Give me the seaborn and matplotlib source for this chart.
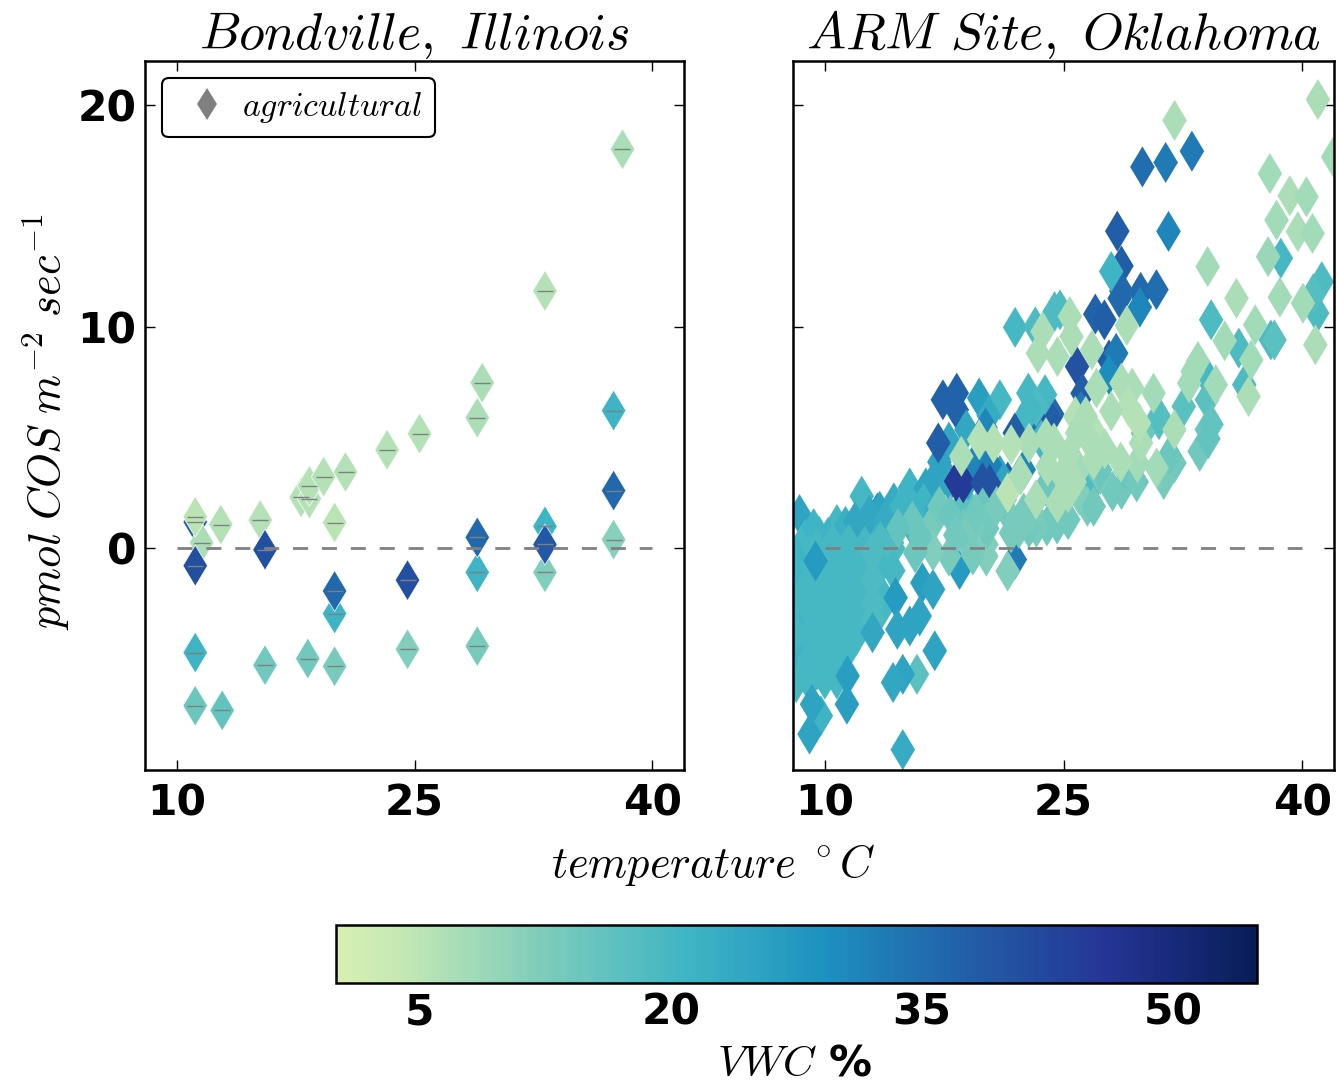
import matplotlib
matplotlib.use("Agg")
import matplotlib.pyplot as plt
import matplotlib.colors as mcolors
from matplotlib.cm import ScalarMappable
from matplotlib.lines import Line2D
import numpy as np
import pandas as pd
import seaborn as sns

# Bondville, Illinois
bond_temp = [
    11.17, 11.57, 11.17, 12.78, 15.27, 11.17, 15.57, 11.17, 15.57, 18.27,
    19.96, 19.96, 19.96, 24.56, 24.56, 11.17, 12.87, 23.27, 17.85, 18.37,
    18.37, 19.27, 20.65, 19.96, 25.32, 28.96, 29.27, 33.23, 38.12, 37.56,
    37.56, 37.56, 33.23, 33.23, 33.23, 28.96, 28.96, 28.96,
]
bond_flux = [
    1.19, 0.26, 1.43, 1.08, 1.28, -0.78, -0.06, -4.7, -5.27, -4.97,
    -5.32, -2.94, -1.92, -1.43, -4.55, -7.1, -7.31, 4.45, 2.30, 2.25,
    2.82, 3.24, 3.45, 1.17, 5.18, 5.9, 7.48, 11.62, 18.02, 6.22,
    2.61, 0.4, 1.0, -1.08, 0.18, -1.08, 0.5, -4.41,
]
bond_vwc = [
    37, 7, 5, 6, 6, 41, 41, 21, 14, 14,
    13, 21, 36, 41, 12, 15, 16, 6, 6, 6,
    6, 6, 6, 5, 6, 7, 7, 6, 7, 21,
    36, 11, 21, 12, 39, 21, 36, 13,
]

# ARM site, Oklahoma (drawn in this order)
arm_temp = [
    33.07, 31.42, 29.96, 28.38, 31.6, 28.64, 28.64, 29.85, 30.84, 29.8,
    28.53, 27.0, 27.57, 25.85, 27.86, 28.31, 27.86, 17.42, 18.29, 18.29,
    23.4, 24.3, 13.3, 21.94, 26.2, 24.1, 26.1, 21.5,
    28.0, 38.66, 41.23, 40.94, 40.7, 34.28, 24.44, 24.78, 21.96, 23.23,
    36.02, 38.03, 38.26, 34.12, 36.36, 19.7, 21.0, 22.79, 23.84, 23.28,
    34.01, 32.56, 31.0, 31.0, 26.86, 12.32, 15.34, 14.34, 13.45, 16.35,
    17.24, 16.8, 8.41, 9.64, 10.76, 8.75, 12.21, 13.1, 14.22, 18.36,
    17.8, 18.9, 16.8, 17.85, 16.2, 18.9, 21.0, 8.2, 10.76, 15.79,
    9.75, 19.6, 22.4, 22.9, 23.6, 19.0, 17.2, 20.3, 15.0, 12.9,
    9.3, 10.2, 11.3, 11.9, 12.8, 13.8, 14.8, 15.4, 16.0, 17.0,
    8.5, 8.5, 8.5, 8.5, 8.5, 9.5, 9.5, 9.5, 9.5, 9.5,
    9.5, 10.5, 10.5, 10.5, 10.5, 10.5, 10.5, 11.5, 11.5, 11.5,
    11.5, 11.5, 12.5, 12.5, 12.5, 12.5, 13.5, 13.5, 13.5, 13.5,
    14.3, 14.3, 8.2, 8.2, 8.2,
    9.0, 9.0, 9.0, 9.0, 9.0, 9.0, 10.0, 10.0, 10.0, 10.0,
    10.0, 10.0, 11.0, 11.0, 11.0, 11.0, 11.0, 12.0, 12.0, 12.0,
    12.0, 13.0, 13.0, 13.0, 13.0, 8.1, 8.1, 8.1,
    20.1, 17.13, 19.25, 20.37, 18.7, 18.25, 19.9, 20.37, 21.94, 22.5,
    16.13, 16.8, 14.45, 15.34, 15.96, 14.56, 13.0, 16.91, 14.9, 14.29,
    11.43, 11.39, 9.2, 9.04, 14.9, 18.47, 19.37, 9.42,
    34.01, 33.56, 30.0, 31.97, 31.3, 28.64, 28.08, 27.3, 23.96, 23.3,
    24.17, 15.5, 16.8, 19.92, 17.8, 16.8, 15.68, 18.86, 20.15, 20.15,
    18.86, 21.49, 21.7, 22.83, 18.7, 20.2, 21.6, 26.5, 23.9, 27.3,
    31.66, 34.1, 34.3, 17.2, 19.3, 14.6, 21.3, 22.5, 25.2, 26.0,
    26.9, 28.9, 29.6, 22.2, 23.0, 24.6, 25.3, 19.5, 20.8, 17.9,
    18.2, 16.0, 19.3,
    40.99, 31.98, 41.95, 37.97, 39.22, 40.27, 38.39, 39.73, 40.65, 37.86,
    34.06, 35.87, 38.6, 40.05, 37.05, 40.83, 28.98, 25.4, 23.68, 25.5,
    35.13, 36.8, 23.39, 24.62, 26.79, 33.45, 33.12, 32.9, 34.57, 36.63,
    30.66, 28.64, 27.08, 29.32, 29.09, 25.74, 31.97, 30.85, 29.65, 29.87,
    29.75, 27.08, 26.4, 25.85, 25.96, 24.4, 22.84, 21.71, 23.28, 24.62,
    25.29, 21.5, 18.58, 20.6, 19.7, 24.0, 27.6, 28.6, 26.9, 25.3,
    24.9, 25.7, 28.0, 23.9, 22.3, 26.6,
]
arm_flux = [
    17.93, 17.42, 17.22, 14.32, 14.31, 12.75, 11.62, 11.56, 11.68, 10.89,
    11.29, 10.58, 10.32, 8.21, 8.51, 8.81, 7.84, 6.71, 7.01, 6.26,
    5.3, 6.05, 1.6, -0.5, 7.0, 5.9, 6.2, 3.0,
    12.5, 13.1, 12.04, 10.62, 11.5, 10.32, 10.69, 10.77, 9.98, 10.0,
    9.04, 9.41, 9.41, 7.61, 7.39, 6.79, 6.71, 7.01, 6.94, 6.41,
    6.71, 6.41, 5.96, 5.81, 2.96, 2.36, 2.73, 2.06, 1.68, 2.73,
    2.96, 2.21, 1.53, 0.56, 1.08, 0.4, 0.48, 0.4, 0.26, 1.61,
    4.8, 5.36, 3.0, 3.0, 2.05, 2.05, 3.3, -6.05, -5.9, -5.68,
    -7.55, 4.1, 5.7, 6.3, 4.9, 3.1, 3.9, 6.0, 1.5, 1.3,
    0.9, 0.5, 1.0, 1.2, 1.5, 1.3, 1.9, 1.1, 1.5, 1.8,
    -0.8, -2.0, -3.2, -4.4, -5.6, 0.0, -1.0, -2.2, -3.4, -4.6,
    -5.5, 0.2, -0.8, -2.0, -3.2, -4.2, -5.3, 0.2, -1.0, -2.2,
    -3.4, -4.5, 0.1, -1.0, -2.2, -3.2, 0.3, -0.8, -2.0, -2.8,
    0.0, -1.0, -1.5, -3.0, -4.5,
    -0.3, -1.5, -2.7, -3.9, -5.1, -6.0, -0.3, -1.4, -2.6, -3.8,
    -4.8, -5.9, -0.3, -1.5, -2.7, -3.9, -4.9, -0.4, -1.6, -2.8,
    -3.9, -0.2, -1.4, -2.5, -3.2, -0.3, -2.3, -3.8,
    5.44, 4.76, 3.63, 3.78, 2.96, 3.03, 2.96, 2.88, 5.21, 3.56,
    -1.55, -1.85, -2.22, -3.5, -3.05, -3.65, -3.8, -4.62, -5.68, -6.05,
    -5.75, -7.03, -7.03, -8.38, -9.08, -0.95, -0.2, -0.57,
    5.36, 4.38, 5.21, 3.86, 3.11, 2.66, 2.58, 3.33, 1.01, 0.95,
    3.41, 1.23, 1.16, 1.83, -0.35, -0.12, -0.2, 0.33, 0.18, -0.35,
    0.55, -1.02, 0.7, 0.93, 0.9, 0.9, 1.45, 1.9, 2.8, 3.55,
    4.2, 4.95, 5.6, 1.9, 1.0, 0.9, 2.2, 1.6, 1.4, 2.4,
    1.9, 3.5, 3.0, 0.9, 1.7, 1.1, 1.3, 1.6, 1.9, 1.5,
    0.6, 0.5, -0.3,
    20.26, 19.32, 17.67, 16.92, 15.92, 15.87, 14.82, 14.3, 14.22, 13.17,
    12.72, 11.29, 11.34, 11.07, 10.09, 9.19, 10.06, 10.47, 9.79, 9.56,
    9.37, 8.51, 8.81, 8.66, 8.96, 8.44, 7.99, 7.46, 7.39, 6.86,
    7.01, 7.46, 7.24, 7.24, 6.41, 5.96, 5.36, 3.63, 3.86, 4.76,
    5.66, 5.06, 5.96, 5.21, 3.56, 4.76, 4.76, 4.68, 2.21, 2.06,
    2.51, 2.51, 4.16, 4.76, 4.91, 3.7, 4.5, 3.9, 4.0, 4.2,
    3.3, 3.0, 6.2, 5.0, 3.3, 4.9,
]
arm_vwc = [
    33, 33, 35, 38, 31, 38, 36, 36, 35, 31,
    36, 37, 38, 40, 38, 33, 30, 37, 37, 37,
    34, 36, 30, 33, 38, 38, 33, 38,
    21, 20, 19, 19, 18, 19, 19, 19, 20, 19,
    19, 19, 17, 20, 19, 26, 20, 20, 20, 19,
    17, 17, 18, 18, 19, 20, 21, 23, 25, 25,
    25, 23, 25, 20, 20, 20, 20, 19, 19, 17,
    24, 24, 25, 24, 21, 17, 25, 20, 20, 17,
    21, 25, 20, 20, 20, 24, 25, 23, 19, 21,
    21, 21, 22, 24, 24, 23, 21, 22, 21, 23,
    20, 20, 20, 20, 20, 20, 20, 20, 20, 20,
    20, 20, 20, 20, 20, 20, 20, 20, 20, 20,
    20, 20, 20, 20, 20, 20, 19, 20, 20, 20,
    19, 20, 21, 21, 21,
    20, 20, 20, 20, 20, 20, 20, 20, 20, 20,
    20, 20, 20, 20, 20, 20, 20, 20, 20, 20,
    20, 19, 19, 19, 19, 21, 20, 20,
    31, 38, 31, 32, 45, 45, 40, 40, 38, 31,
    26, 25, 27, 25, 25, 25, 24, 25, 25, 24,
    26, 26, 25, 25, 23, 27, 28, 27,
    15, 14, 15, 14, 13, 14, 14, 13, 14, 13,
    15, 15, 13, 15, 13, 12, 15, 12, 12, 12,
    13, 12, 13, 14, 14, 14, 13, 13, 15, 15,
    15, 16, 16, 14, 13, 16, 14, 13, 13, 12,
    14, 15, 14, 13, 13, 14, 14, 14, 13, 15,
    14, 15, 13,
    7, 7, 8, 8, 7, 8, 8, 7, 8, 9,
    8, 7, 8, 8, 8, 7, 7, 7, 7, 7,
    8, 8, 7, 7, 7, 8, 8, 8, 8, 7,
    8, 7, 7, 7, 6, 6, 7, 8, 8, 7,
    6, 6, 7, 7, 8, 7, 7, 6, 7, 7,
    7, 5, 7, 6, 6, 7, 7, 7, 7, 7,
    7, 7, 7, 7, 7, 7,
]

temp_ticks = [10, 25, 40]
flux_ticks = [0, 10, 20]
vwc_ticks = [5, 20, 35, 50]

sns.set_theme(style="ticks")
plt.rcParams["mathtext.fontset"] = "cm"
plt.rcParams["font.family"] = ["DejaVu Sans"]
plt.rcParams["text.color"] = "black"
plt.rcParams["xtick.color"] = "black"
plt.rcParams["ytick.color"] = "black"
plt.rcParams["axes.labelcolor"] = "black"

# the colorbar starts part way into YlGnBu
ygb = matplotlib.colormaps["YlGnBu"]
cmap = mcolors.LinearSegmentedColormap.from_list("ygb_cut", ygb(np.linspace(0.2, 1.0, 256)))
norm = mcolors.Normalize(vmin=0, vmax=55)

fig = plt.figure(figsize=(13.38, 10.84), dpi=100)
ax1 = fig.add_axes([145 / 1338, 314 / 1084, 539 / 1338, 709 / 1084])
ax2 = fig.add_axes([793 / 1338, 314 / 1084, 541 / 1338, 709 / 1084])
cax = fig.add_axes([336 / 1338, 101 / 1084, 921 / 1338, 58 / 1084])

df_bond = pd.DataFrame({"temp": bond_temp, "flux": bond_flux, "vwc": bond_vwc})
df_arm = pd.DataFrame({"temp": arm_temp, "flux": arm_flux, "vwc": arm_vwc})

for ax, df, edge in [(ax1, df_bond, 0.5), (ax2, df_arm, 0)]:
    sns.scatterplot(
        data=df, x="temp", y="flux", hue="vwc", palette=cmap, hue_norm=norm,
        marker="d", s=436, linewidth=edge, edgecolor="white", legend=False, ax=ax,
    )
    ax.plot([10, 40], [0, 0], color="gray", lw=2, dashes=(5.4, 5.0), zorder=4)
    ax.set_xlim(8, 42)
    ax.set_ylim(-10, 22)
    ax.set_xticks(temp_ticks)
    ax.set_yticks(flux_ticks)
    ax.set_xlabel("")
    ax.set_ylabel("")
    ax.tick_params(direction="in", length=7, width=1, top=True, right=True, labelsize=30.5, pad=6)
    ax.tick_params(axis="x", pad=9)
    for lab in ax.get_xticklabels() + ax.get_yticklabels():
        lab.set_fontweight("bold")
    for sp in ax.spines.values():
        sp.set_linewidth(1.8)
        sp.set_color("black")

ax1.plot(bond_temp, bond_flux, "_", color="gray", ms=11, mew=1, zorder=5)
ax2.tick_params(labelleft=False)

ax1.set_title(r"$Bondville,\ Illinois$", fontsize=37.5, pad=9)
ax2.set_title(r"$ARM\ Site,\ Oklahoma$", fontsize=37.5, pad=9)

handle = Line2D([], [], marker="d", color="gray", ls="none", ms=16.8, mew=0)
leg = ax1.legend(
    [handle], [r"$agricultural$"], loc="upper left",
    fontsize=24.4, frameon=True, fancybox=True, framealpha=1, edgecolor="black",
    handlelength=1.95, handletextpad=0.05, borderpad=0.36, numpoints=1,
)
leg.get_frame().set_linewidth(1.5)

fig.text(713 / 1338, 1 - 865 / 1084, r"$temperature\ ^\circ C$", fontsize=32, ha="center", va="center")
fig.text(46 / 1338, 1 - 422 / 1084, r"$pmol\ COS\ m^{-2}\ sec^{-1}$", fontsize=32,
         rotation=90, ha="center", va="center")

cb = fig.colorbar(ScalarMappable(norm=norm, cmap=cmap), cax=cax, orientation="horizontal", ticks=vwc_ticks)
cb.ax.tick_params(direction="in", length=7, width=1, labelsize=30.5, pad=6, color="black")
for lab in cb.ax.get_xticklabels():
    lab.set_fontweight("bold")
cb.outline.set_linewidth(1.8)
cb.outline.set_edgecolor("black")
fig.text(795 / 1338, 1 - 1063 / 1084, r"$VWC$ %", fontsize=31, fontweight="bold", ha="center", va="center")

fig.savefig("out.png", dpi=100)
